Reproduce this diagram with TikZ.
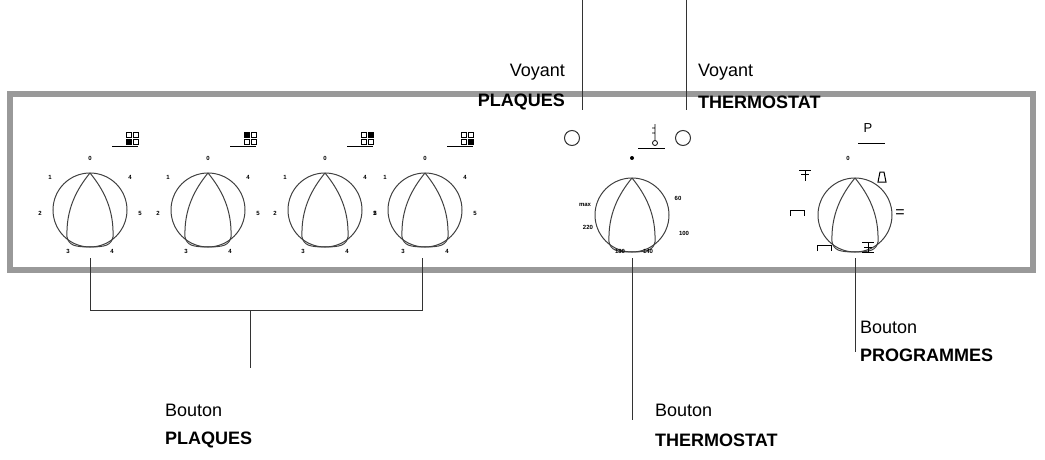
\documentclass[tikz,border=0pt]{standalone}
\usepackage{fontspec}
\setmainfont{Liberation Sans}
\usetikzlibrary{positioning}
\tikzset{
  knob/.style={draw=black!75,line width=1pt},
  dial/.style={font=\fontsize{6}{6}\selectfont\bfseries,inner sep=0pt},
  callout/.style={draw=black!80,line width=1pt},
  word/.style={font=\fontsize{18}{18}\selectfont,inner sep=0pt},
  title/.style={font=\fontsize{18}{18}\selectfont\bfseries,inner sep=0pt},
  lamp/.style={circle,draw=black!80,line width=1pt,minimum size=15pt,inner sep=0pt}
}
\newcommand\knobat[3]{%
  \coordinate (#3) at (#1,#2);
  \begin{scope}[shift={(#1,#2)}]
  \draw[knob] (0,0) circle (37);
  \draw[knob] (0,-37) .. controls (-14,-20) and (-24,0) .. (-23,27)
     .. controls (-21,35) and (-16,37) .. (0,37)
     .. controls (16,37) and (21,35) .. (23,27)
     .. controls (24,0) and (14,-20) .. (0,-37);
  \end{scope}}
\begin{document}
\begin{tikzpicture}[x=1pt,y=-1pt]
\useasboundingbox (0,0) rectangle (1045,460);
\draw[black!40,line width=6pt] (10,94) rectangle (1033,270);
% boutons plaques
\foreach \x/\n in {90/p1,208/p2,325/p3,425/p4}{
  \knobat{\x}{210}{\n}
  \node[dial] at (\x,158) {0};
  \node[dial] at (\x-40,177) {1};
  \node[dial] at (\x-50,213) {2};
  \node[dial] at (\x-22,251) {3};
  \node[dial] at (\x+22,251) {4};
  \node[dial] at (\x+40,177) {4};
  \node[dial] at (\x+50,213) {5};
  \draw[line width=1pt] (\x+22,146) -- (\x+48,146);
  \foreach \i/\j in {0/0,1/0,0/1,1/1}
    \draw[line width=0.6pt] (\x+36+\i*7,132+\j*7) rectangle ++(5,5);
}
\fill (126,139) rectangle ++(5,5);
\fill (244,132) rectangle ++(5,5);
\fill (368,132) rectangle ++(5,5);
\fill (468,139) rectangle ++(5,5);
% thermostat
\knobat{632}{215}{th}
\fill (632,158) circle (2);
\node[dial] at (585,205) {max};
\node[dial] at (678,198) {60};
\node[dial] at (684,233) {100};
\node[dial] at (588,227) {220};
\node[dial] at (620,251) {180};
\node[dial] at (648,251) {140};
\draw[line width=1pt] (638,148) -- (665,148);
\draw[line width=0.8pt] (655,124) -- (655,140) (655,143) circle (2.5) (652,128) -- (655,128) (652,133) -- (655,133);
\node[lamp] (vp) at (572,138) {};
\node[lamp] (vt) at (683,138) {};
% programmes
\knobat{855}{215}{pg}
\node[dial] at (848,158) {0};
\node[font=\fontsize{13}{13}\selectfont] at (868,128) {P};
\draw[line width=1pt] (858,143) -- (885,143);
\node[font=\fontsize{16}{16}\selectfont] at (900,214) {=};
\draw[line width=1pt] (799,170) -- (811,170) (801,174) -- (809,174) (805,170) -- (805,181);
\draw[line width=1pt] (880,172) -- (878,182) -- (886,182) -- (884,172) -- cycle;
\draw[line width=1pt] (790,216) -- (790,210) -- (804,210) -- (804,216);
\draw[line width=1pt] (817,251) -- (817,245) -- (831,245) -- (831,251);
\draw[line width=1pt] (862,242) -- (874,242) (868,242) -- (868,252) (862,252) -- (874,252) (864,247) -- (872,247);
% repères
\coordinate (vpt) at (582,0);
\coordinate (vtt) at (686,0);
\draw[callout] (vpt) -- (582,110);
\draw[callout] (vtt) -- (686,110);
\node[word,anchor=east] at (565,72) {Voyant};
\node[title,anchor=east] at (565,102) {PLAQUES};
\node[word,anchor=west] at (698,72) {Voyant};
\node[title,anchor=west] at (698,102) {THERMOSTAT};
\draw[callout] (90,258) -- (90,310) -- (422,310) -- (422,258);
\draw[callout] (250,310) -- (250,368);
\node[word,anchor=west] at (165,410) {Bouton};
\node[title,anchor=west] at (165,440) {PLAQUES};
\draw[callout] (632,258) -- (632,420);
\node[word,anchor=west] at (655,410) {Bouton};
\node[title,anchor=west] at (655,440) {THERMOSTAT};
\draw[callout] (855,258) -- (855,352);
\node[word,anchor=west] at (860,327) {Bouton};
\node[title,anchor=west] at (860,355) {PROGRAMMES};
\end{tikzpicture}
\end{document}
